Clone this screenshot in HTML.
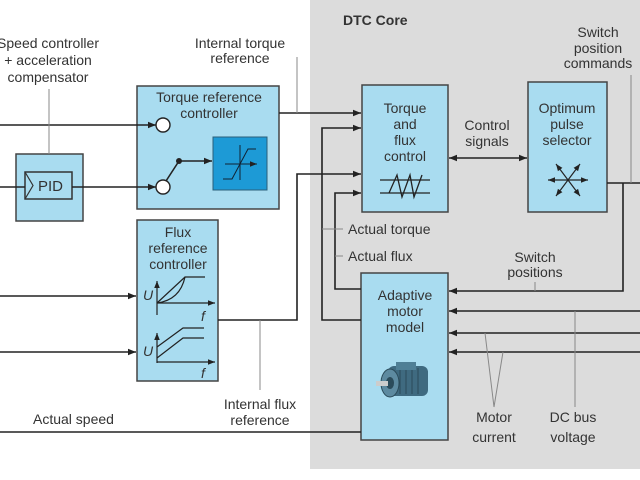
<!DOCTYPE html>
<html><head><meta charset="utf-8"><style>
html,body{margin:0;padding:0;background:#fff;}
svg{display:block;}
text{font-family:"Liberation Sans",sans-serif;font-size:14px;fill:#333;}
</style></head><body>
<svg width="640" height="480" viewBox="0 0 640 480" xmlns="http://www.w3.org/2000/svg">
<defs>
<marker id="a" viewBox="0 0 10 10" refX="10" refY="5" markerWidth="8" markerHeight="8" markerUnits="userSpaceOnUse" orient="auto"><path d="M0,1 L10,5 L0,9 z" fill="#222"/></marker>
<marker id="as" viewBox="0 0 10 10" refX="10" refY="5" markerWidth="7" markerHeight="7" markerUnits="userSpaceOnUse" orient="auto"><path d="M0,1 L10,5 L0,9 z" fill="#222"/></marker>
<marker id="ab" viewBox="0 0 10 10" refX="0" refY="5" markerWidth="8" markerHeight="8" markerUnits="userSpaceOnUse" orient="auto"><path d="M10,1 L0,5 L10,9 z" fill="#222"/></marker>
</defs>
<rect x="310" y="0" width="330" height="469" fill="#dcdcdc"/>
<text x="343" y="25" style="font-weight:bold;font-size:14px">DTC Core</text>

<g stroke="#444" stroke-width="1.5" fill="#a9dcf0">
<rect x="137" y="86" width="142" height="123"/>
<rect x="16" y="154" width="67" height="67"/>
<rect x="137" y="220" width="81" height="161"/>
<rect x="362" y="85" width="86" height="127"/>
<rect x="528" y="82" width="79" height="130"/>
<rect x="361" y="273" width="87" height="167"/>
</g>
<rect x="25" y="172" width="47" height="27" fill="none" stroke="#333" stroke-width="1.5"/>
<polyline points="25,172 33,185.5 25,199" fill="none" stroke="#333" stroke-width="1.2"/>
<text x="38" y="191" style="font-size:15px">PID</text>
<rect x="213" y="137" width="54" height="53" fill="#1d9ad6" stroke="#2a5f7a" stroke-width="1"/>
<g stroke="#123" stroke-width="1" fill="none">
<line x1="225" y1="164" x2="257" y2="164" marker-end="url(#as)"/>
<line x1="240" y1="180" x2="240" y2="145"/>
<polyline points="223,179 232,179 248,149 256,149"/>
</g>

<g stroke="#222" stroke-width="1.6" fill="none">
<line x1="0" y1="125" x2="156" y2="125" marker-end="url(#a)"/>
<line x1="0" y1="187" x2="25" y2="187"/>
<line x1="72" y1="187" x2="156" y2="187" marker-end="url(#a)"/>
<line x1="166" y1="181" x2="179" y2="161"/>
<line x1="179" y1="161" x2="212" y2="161" marker-end="url(#a)"/>
<line x1="279" y1="113" x2="361" y2="113" marker-end="url(#a)"/>
<polyline points="218,320 297,320 297,174 361,174" marker-end="url(#a)"/>
<polyline points="361,320 322,320 322,128 361,128" marker-end="url(#a)"/>
<polyline points="361,289 335,289 335,193 361,193" marker-end="url(#a)"/>
<line x1="0" y1="296" x2="136" y2="296" marker-end="url(#a)"/>
<line x1="0" y1="352" x2="136" y2="352" marker-end="url(#a)"/>
<line x1="0" y1="432" x2="361" y2="432"/>
<line x1="449" y1="158" x2="527" y2="158" marker-start="url(#ab)" marker-end="url(#a)"/>
<line x1="607" y1="183" x2="640" y2="183"/>
<polyline points="623,183 623,291 449,291" marker-end="url(#a)"/>
<line x1="640" y1="311" x2="449" y2="311" marker-end="url(#a)"/>
<line x1="640" y1="333" x2="449" y2="333" marker-end="url(#a)"/>
<line x1="640" y1="352" x2="449" y2="352" marker-end="url(#a)"/>
</g>
<circle cx="163" cy="125" r="7" fill="#fff" stroke="#222" stroke-width="1.4"/>
<circle cx="163" cy="187" r="7" fill="#fff" stroke="#222" stroke-width="1.4"/>
<circle cx="179" cy="161" r="3" fill="#222"/>

<g stroke="#888" stroke-width="1" fill="none">
<line x1="49" y1="89" x2="49" y2="154"/>
<line x1="297" y1="57" x2="297" y2="113"/>
<line x1="260" y1="320" x2="260" y2="390"/>
<line x1="322" y1="229" x2="343" y2="229"/>
<line x1="335" y1="256" x2="343" y2="256"/>
<line x1="631" y1="75" x2="631" y2="183"/>
<line x1="535" y1="282" x2="535" y2="291"/>
<line x1="575" y1="311" x2="575" y2="407"/>
<polyline points="485,333 494,407 503,352"/>
</g>

<g stroke="#222" stroke-width="1.3" fill="none">
<line x1="380" y1="180" x2="430" y2="180"/>
<line x1="380" y1="193" x2="430" y2="193"/>
<polyline points="389,193 397,175 402,197 410,175 414,197 422,175"/>
</g>
<g stroke="#222" stroke-width="1.2" fill="none">
<line x1="568" y1="180" x2="548" y2="180" marker-end="url(#as)"/>
<line x1="568" y1="180" x2="588" y2="180" marker-end="url(#as)"/>
<line x1="568" y1="180" x2="556" y2="164" marker-end="url(#as)"/>
<line x1="568" y1="180" x2="580" y2="164" marker-end="url(#as)"/>
<line x1="568" y1="180" x2="556" y2="196" marker-end="url(#as)"/>
<line x1="568" y1="180" x2="580" y2="196" marker-end="url(#as)"/>
</g>
<g stroke="#222" stroke-width="1.2" fill="none">
<line x1="157" y1="315" x2="157" y2="281" marker-end="url(#as)"/>
<line x1="157" y1="303" x2="215" y2="303" marker-end="url(#as)"/>
<polyline points="157,303 185,277 205,277"/>
<path d="M157,303 Q180,300 185,277"/>
<line x1="157" y1="363" x2="157" y2="333" marker-end="url(#as)"/>
<line x1="157" y1="362" x2="215" y2="362" marker-end="url(#as)"/>
<polyline points="157,347 183,328 204,328"/>
<polyline points="157,358 183,338 204,338"/>
</g>
<text x="143" y="300" style="font-style:italic">U</text>
<text x="201" y="321" style="font-style:italic">f</text>
<text x="143" y="356" style="font-style:italic">U</text>
<text x="201" y="378" style="font-style:italic">f</text>

<g>
<rect x="388" y="366" width="40" height="30" rx="6" fill="#3f6a80"/>
<g stroke="#2b4b5a" stroke-width="1"><line x1="400" y1="368" x2="400" y2="394"/><line x1="406" y1="368" x2="406" y2="394"/><line x1="412" y1="368" x2="412" y2="394"/><line x1="418" y1="368" x2="418" y2="394"/></g>
<ellipse cx="390" cy="383" rx="9" ry="14" fill="#5d8aa0" stroke="#2b4b5a"/>
<ellipse cx="390" cy="383" rx="4" ry="6" fill="#2b4b5a"/>
<rect x="376" y="381" width="12" height="5" fill="#ccc"/>
<rect x="396" y="362" width="20" height="8" fill="#4f7f96"/>
</g>

<g text-anchor="middle">
<text x="48" y="48">Speed controller</text>
<text x="48" y="65">+ acceleration</text>
<text x="48" y="82">compensator</text>
<text x="240" y="48">Internal torque</text>
<text x="240" y="63">reference</text>
<text x="209" y="102">Torque reference</text>
<text x="209" y="118">controller</text>
<text x="178" y="237">Flux</text>
<text x="178" y="253">reference</text>
<text x="178" y="269">controller</text>
<text x="405" y="113">Torque</text>
<text x="405" y="129">and</text>
<text x="405" y="145">flux</text>
<text x="405" y="161">control</text>
<text x="487" y="130">Control</text>
<text x="487" y="146">signals</text>
<text x="567" y="113">Optimum</text>
<text x="567" y="129">pulse</text>
<text x="567" y="145">selector</text>
<text x="598" y="37">Switch</text>
<text x="598" y="53">position</text>
<text x="598" y="68">commands</text>
<text x="535" y="262">Switch</text>
<text x="535" y="277">positions</text>
<text x="405" y="300">Adaptive</text>
<text x="405" y="316">motor</text>
<text x="405" y="332">model</text>
<text x="260" y="409">Internal flux</text>
<text x="260" y="425">reference</text>
<text x="494" y="422">Motor</text>
<text x="494" y="442">current</text>
<text x="573" y="422">DC bus</text>
<text x="573" y="442">voltage</text>
</g>
<text x="33" y="424">Actual speed</text>
<text x="348" y="234">Actual torque</text>
<text x="348" y="261">Actual flux</text>
</svg>
</body></html>
